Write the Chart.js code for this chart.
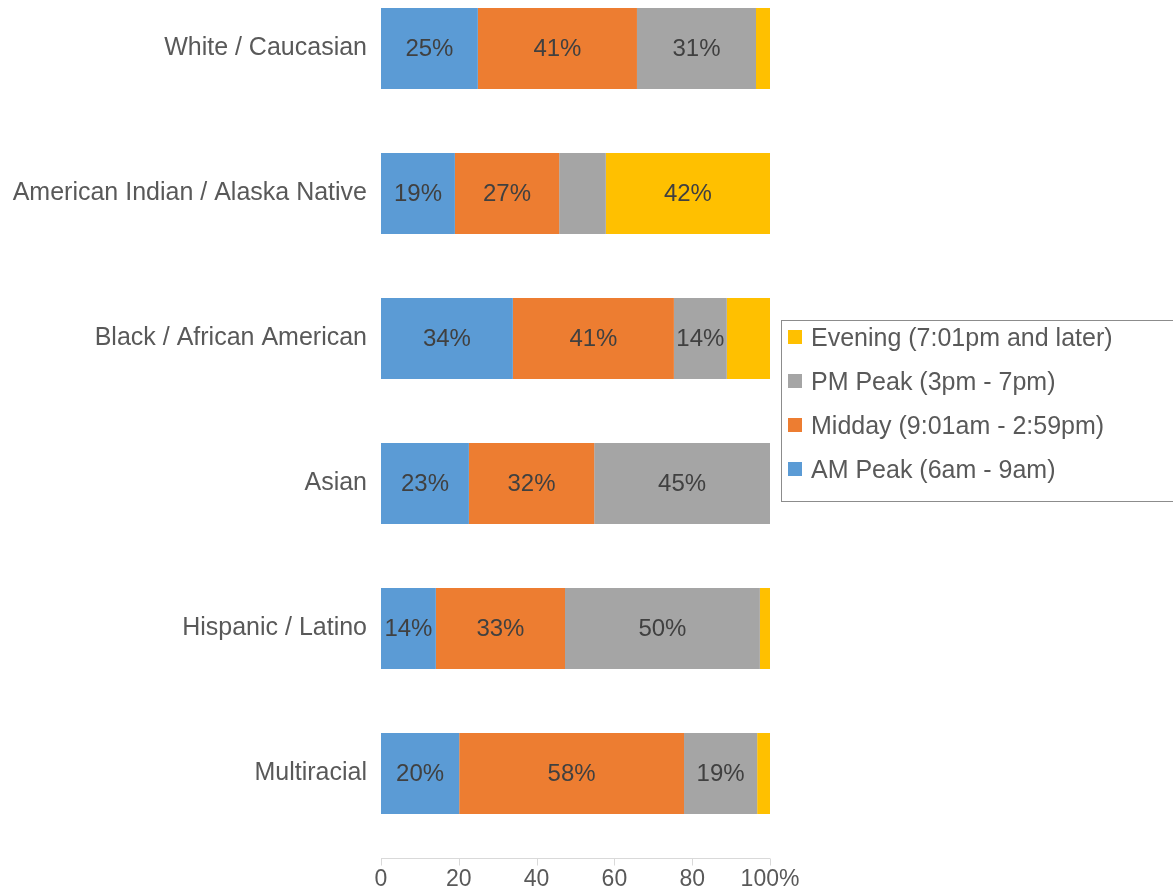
<!DOCTYPE html>
<html>
<head>
<meta charset="utf-8">
<script src="https://cdn.jsdelivr.net/npm/chart.js@4.4.1/dist/chart.umd.min.js"></script>
<style>
    body { margin: 0; background: #fff; overflow: hidden; font-family: "Liberation Sans", Arial, sans-serif; }
    #wrap { position: absolute; left: 0; top: -53px; width: 1173px; height: 945px; }
    #legenda {
        position: absolute; left: 781px; top: 320px; width: 420px; height: 182px;
        border: 1.5px solid #8c8c8c; box-sizing: border-box;
    }
    .item { position: absolute; left: 6px; height: 26px; display: flex; align-items: center;
        font-size: 25px; color: #595959; white-space: nowrap; }
    .item span.cor { width: 14px; height: 14px; margin-right: 9px; display: inline-block; }
</style>
</head>
<body>
<div id="wrap"><canvas id="graficoBarra"></canvas></div>
<div id="legenda"></div>
<script>
const categorias = ['White / Caucasian', 'American Indian / Alaska Native', 'Black / African American', 'Asian', 'Hispanic / Latino', 'Multiracial'];
const amPeak  = [24.9, 19.0, 33.9, 22.6, 14.1, 20.1];
const midday  = [40.9, 26.8, 41.4, 32.2, 33.2, 57.8];
const pmPeak  = [30.6, 12.0, 13.6, 45.2, 50.1, 18.8];
const evening = [3.6, 42.2, 11.1, 0, 2.6, 3.3];
const nomesSeries = ['AM Peak (6am - 9am)', 'Midday (9:01am - 2:59pm)', 'PM Peak (3pm - 7pm)', 'Evening (7:01pm and later)'];
const coresSeries = ['#5B9BD5', '#ED7D31', '#A5A5A5', '#FFC000'];
const ticksX = [0, 20, 40, 60, 80, 100];

const valores = [amPeak, midday, pmPeak, evening];

// rótulos de porcentagem dentro das barras
const rotulosPlugin = {
    id: 'rotulos',
    afterDatasetsDraw(chart) {
        const ctx = chart.ctx;
        ctx.save();
        ctx.font = '24px "Liberation Sans", Arial, sans-serif';
        ctx.fillStyle = '#404040';
        ctx.textAlign = 'center';
        ctx.textBaseline = 'middle';
        chart.data.datasets.forEach((ds, i) => {
            chart.getDatasetMeta(i).data.forEach((bar, j) => {
                const v = ds.data[j];
                if (v < 13) return;
                ctx.fillText(Math.round(v) + '%', (bar.x + bar.base) / 2, bar.y + 1);
            });
        });
        ctx.restore();
    }
};

// linha do eixo x um pouco abaixo da área do gráfico
const eixoPlugin = {
    id: 'eixo',
    afterDraw(chart) {
        const ctx = chart.ctx;
        const x = chart.scales.x;
        const y0 = Math.round(chart.chartArea.bottom + 12) + 0.5;
        ctx.save();
        ctx.strokeStyle = '#d9d9d9';
        ctx.lineWidth = 1;
        ctx.beginPath();
        ctx.moveTo(x.left, y0);
        ctx.lineTo(x.right, y0);
        x.ticks.forEach(t => {
            const px = Math.round(x.getPixelForValue(t.value)) + 0.5;
            ctx.moveTo(px, y0);
            ctx.lineTo(px, y0 + 7);
        });
        ctx.stroke();
        ctx.restore();
    }
};

const ctx = document.getElementById('graficoBarra').getContext('2d');
new Chart(ctx, {
    type: 'bar',
    data: {
        labels: categorias,
        datasets: valores.map((v, i) => ({
            label: nomesSeries[i],
            data: v,
            backgroundColor: coresSeries[i],
            borderWidth: 0,
            categoryPercentage: 1,
            barPercentage: 0.559
        }))
    },
    options: {
        indexAxis: 'y',
        responsive: true,
        maintainAspectRatio: false,
        animation: false,
        layout: { padding: { left: 0, right: 403, top: 0, bottom: 0 } },
        plugins: {
            legend: { display: false },
            tooltip: { enabled: false }
        },
        scales: {
            x: {
                stacked: true,
                min: 0,
                max: 100,
                afterBuildTicks: s => { s.ticks = ticksX.map(v => ({ value: v })); },
                afterFit: s => { s.height = 46; },
                grid: { display: false, drawTicks: false },
                border: { display: false },
                ticks: {
                    color: '#595959',
                    font: { size: 23, family: '"Liberation Sans", Arial, sans-serif' },
                    padding: 20,
                    maxRotation: 0,
                    callback: v => v === 100 ? '100%' : v
                }
            },
            y: {
                stacked: true,
                afterFit: s => { s.width = 381; },
                grid: { display: false, drawTicks: false },
                border: { display: false },
                ticks: {
                    color: '#595959',
                    font: { size: 25, family: '"Liberation Sans", Arial, sans-serif' },
                    padding: 14
                }
            }
        }
    },
    plugins: [rotulosPlugin, eixoPlugin]
});

// legenda em HTML, ordem invertida como no original
const legenda = document.getElementById('legenda');
[3, 2, 1, 0].forEach((i, k) => {
    const item = document.createElement('div');
    item.className = 'item';
    item.style.top = (3 + k * 44) + 'px';
    item.innerHTML = `<span class="cor" style="background:${coresSeries[i]}"></span>${nomesSeries[i]}`;
    legenda.appendChild(item);
});
</script>
</body>
</html>
